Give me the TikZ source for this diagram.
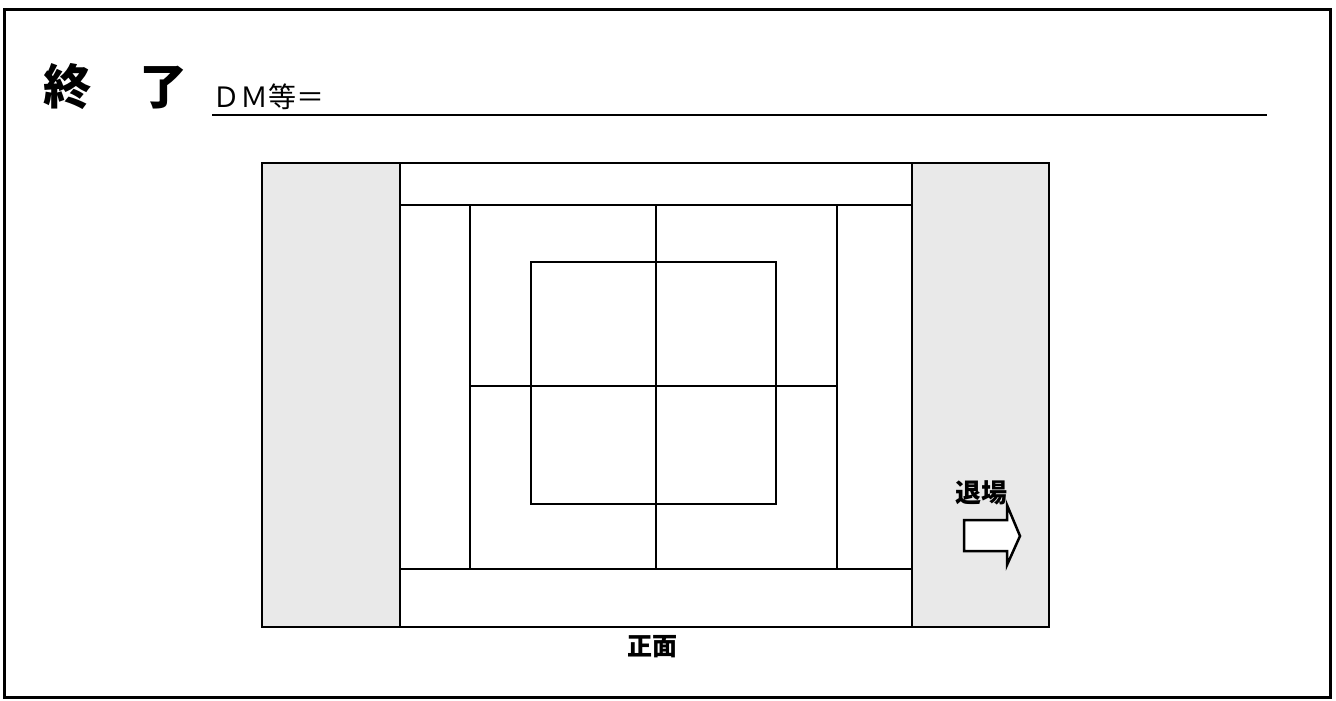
\documentclass[tikz,border=0pt]{standalone}
\usepackage{fontspec}
\newfontfamily\cjk{Noto Sans CJK JP}
\usepackage{tikz}

\begin{document}
\begin{tikzpicture}[x=1pt,y=-1pt,
    every node/.style={inner sep=0pt,font=\cjk},
    aisle/.style={draw,line width=1.5pt,fill=gray!17},
    plan/.style={draw,line width=1.5pt}]
    \useasboundingbox (0,0) rectangle (1336,701);

    % Frame and heading
    \draw[line width=3pt] (4,10) rectangle (1330,697);
    \node[anchor=west,font=\cjk\bfseries\fontsize{48}{48}\selectfont] (title) at (43,87) {終　了};
    \node[anchor=south west,font=\cjk\fontsize{28}{28}\selectfont] (dm) at (212,110) {ＤＭ等＝};
    \coordinate (lineend) at (1267,115);
    \draw[line width=1.5pt] (dm.south west |- lineend) -- (lineend);

    % Aisles (left, right)
    \draw[aisle] (262,163) rectangle (400,627);
    \draw[aisle] (912,163) rectangle (1049,627);

    % Bands (top, bottom) and side strips
    \draw[plan] (400,163) rectangle (912,205);
    \draw[plan] (400,569) rectangle (912,627);
    \draw[plan] (470,205) -- (470,569);
    \draw[plan] (837,205) -- (837,569);

    % Centre square and cross
    \draw[plan] (531,262) rectangle (776,504);
    \draw[plan] (656,205) -- (656,569);
    \draw[plan] (470,386) -- (837,386);

    % Labels
    \node[font=\cjk\bfseries\fontsize{25}{25}\selectfont] (front) at (652,647) {正面};
    \node[font=\cjk\bfseries\fontsize{26}{26}\selectfont] (exit) at (981,493) {退場};
    \draw[line width=2.5pt,fill=white] (964,520) -- (1007,520) -- (1007,505)
        -- (1020,536) -- (1007,565) -- (1007,551) -- (964,551) -- cycle;
\end{tikzpicture}
\end{document}
